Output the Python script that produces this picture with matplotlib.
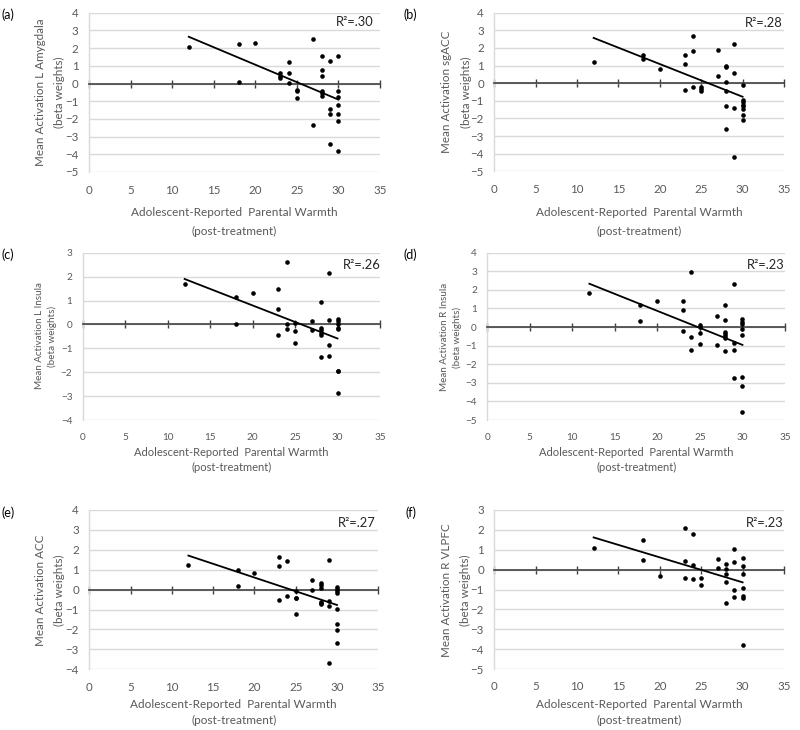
import matplotlib
matplotlib.use("Agg")
import matplotlib.pyplot as plt

plt.rcParams['font.family'] = ['Lato', 'DejaVu Sans']

W, H = 800, 730

# ---------------- data ----------------
a_x = [12, 18, 18, 20, 23, 23, 23, 24, 24, 24, 25, 25, 25, 27, 27, 28, 28, 28, 28, 28, 28,
       29, 29, 29, 29, 30, 30, 30, 30, 30, 30, 30]
a_y = [2.05, 2.25, 0.11, 2.28, 0.58, 0.45, 0.32, 1.19, 0.58, 0.02, -0.36, -0.43, -0.83, 2.53, -2.32,
       1.55, 0.79, 0.43, -0.40, -0.55, -0.72, 1.26, -1.42, -1.75, -3.42,
       1.55, -0.45, -0.77, -1.19, -1.72, -2.13, -3.81]

b_x = [12, 18, 18, 20, 23, 23, 23, 24, 24, 24, 25, 25, 25, 27, 27, 28, 28, 28, 28, 28, 28,
       29, 29, 29, 29, 30, 30, 30, 30, 30, 30, 30, 30]
b_y = [1.19, 1.6, 1.4, 0.81, 1.62, 1.09, -0.38, 2.68, 1.81, -0.19, -0.19, -0.32, -0.47, 1.89, 0.43,
       1.0, 0.94, 0.04, -0.47, -1.32, -2.6, 2.23, 0.55, -1.43, -4.19,
       -0.09, -0.94, -1.08, -1.21, -1.32, -1.47, -1.79, -2.08]

c_x = [12, 18, 18, 20, 23, 23, 23, 24, 24, 24, 25, 25, 25, 27, 27, 28, 28, 28, 28, 28, 28,
       29, 29, 29, 29, 30, 30, 30, 30, 30, 30, 30, 30]
c_y = [1.69, 1.15, 0.0, 1.30, 1.49, 0.64, -0.45, 2.6, 0.03, -0.2, 0.06, -0.28, -0.78, 0.15, -0.22,
       0.94, -0.17, -0.25, -0.34, -0.46, -1.38, 2.15, 0.18, -0.87, -1.33,
       0.22, 0.13, 0.01, -0.14, -0.2, -1.94, -1.97, -2.89]

d_x = [12, 18, 18, 20, 23, 23, 23, 24, 24, 24, 25, 25, 25, 25, 27, 27, 28, 28, 28, 28, 28, 28, 28,
       29, 29, 29, 29, 30, 30, 30, 30, 30, 30, 30, 30]
d_y = [1.83, 1.19, 0.32, 1.42, 1.42, 0.93, -0.23, 2.97, -0.55, -1.23, 0.09, 0.02, -0.3, -0.91,
       0.62, -0.98, 1.21, 0.36, -0.25, -0.36, -0.46, -0.6, -1.28, 2.3, -0.84, -1.21, -2.76,
       0.41, 0.28, 0.16, -0.09, -0.43, -2.69, -3.18, -4.57]

e_x = [12, 18, 18, 20, 23, 23, 23, 24, 24, 25, 25, 25, 25, 27, 27, 28, 28, 28, 28, 28, 28,
       29, 29, 29, 29, 30, 30, 30, 30, 30, 30, 30, 30]
e_y = [1.24, 0.99, 0.18, 0.82, 1.62, 1.21, -0.52, 1.44, -0.34, -0.05, -0.4, -0.44, -1.24, 0.47, -0.02,
       0.34, 0.23, 0.1, -0.6, -0.67, -0.74, 1.47, -0.57, -0.82, -3.68,
       0.13, 0.03, -0.07, -0.15, -0.97, -1.71, -2.01, -2.66]

f_x = [12, 18, 18, 20, 23, 23, 23, 24, 24, 24, 25, 25, 27, 27, 28, 28, 28, 28, 28,
       29, 29, 29, 29, 30, 30, 30, 30, 30, 30, 30]
f_y = [1.11, 1.48, 0.47, -0.32, 2.09, 0.42, -0.44, 1.8, 0.25, -0.47, -0.44, -0.78, 0.52, 0.1,
       0.27, 0.05, -0.2, -0.62, -1.67, 1.03, 0.4, -1.03, -1.38,
       0.59, 0.19, -0.2, -0.91, -1.33, -1.43, -3.78]

trend_x = [12, 30]
trend_a = [2.64, -0.91]
trend_b = [2.57, -0.77]
trend_c = [1.90, -0.59]
trend_d = [2.33, -0.96]
trend_e = [1.71, -0.77]
trend_f = [1.62, -0.64]

panel_labels = ['(a)', '(b)', '(c)', '(d)', '(e)', '(f)']
r2_labels = ['R\u00b2=.30', 'R\u00b2=.28', 'R\u00b2=.26', 'R\u00b2=.23', 'R\u00b2=.27', 'R\u00b2=.23']
y_titles = ['Mean Activation L Amygdala', 'Mean Activation sgACC', 'Mean Activation L Insula',
            'Mean Activation R Insula', 'Mean Activation ACC', 'Mean Activation R VLPFC']
y_sub = '(beta weights)'
x_title = 'Adolescent-Reported  Parental Warmth'
x_sub = '(post-treatment)'
y_limits = [(-5, 4), (-5, 4), (-4, 3), (-5, 4), (-4, 4), (-5, 3)]
x_ticks = [0, 5, 10, 15, 20, 25, 30, 35]

xs = [a_x, b_x, c_x, d_x, e_x, f_x]
ys = [a_y, b_y, c_y, d_y, e_y, f_y]
trends = [trend_a, trend_b, trend_c, trend_d, trend_e, trend_f]

# ---------------- layout (pixels) ----------------
boxes = [  # left, right, top, bottom
    (89, 380, 12.7, 172),
    (494.3, 784, 12.7, 171.3),
    (82.7, 380, 252.7, 420),
    (487.3, 785, 252.7, 420),
    (89.3, 378.3, 510, 669.3),
    (494.3, 784, 510, 669),
]
panel_pos = [(2, 15), (403, 15), (2, 255), (404, 255), (2, 513), (406, 513)]
r2_pos = [(374, 22), (783, 23), (381, 265), (785, 265), (376, 523), (784, 523)]
ytitle_pos = [((41, 59), 92), ((447, 466), 92), ((39, 52), 336), ((444, 457), 337),
              ((41, 59), 590), ((446, 465), 590)]
xtitle_pos = [(213, 231), (213, 231), (452, 467), (452, 467), (704, 720), (704, 720)]
ylab_size = [8.4, 8.4, 7.1, 7.1, 8.4, 8.4]
tick_size = [8.3, 8.3, 7.2, 7.2, 8.3, 8.3]
xlab_size = [8.5, 8.5, 8.0, 8.0, 8.5, 8.5]

GRID = '#d9d9d9'
AXC = '#404040'
TXT = '#595959'

fig = plt.figure(figsize=(W / 100, H / 100), dpi=100)

for i in range(6):
    l, r, t, b = boxes[i]
    ax = fig.add_axes([l / W, 1 - b / H, (r - l) / W, (b - t) / H])
    ymin, ymax = y_limits[i]
    ax.set_xlim(0, 35)
    ax.set_ylim(ymin, ymax)
    ax.set_yticks(list(range(ymin, ymax + 1)))
    ax.set_xticks(x_ticks)
    ax.yaxis.grid(True, color=GRID, lw=1.0)
    ax.set_axisbelow(True)
    for s in ['top', 'right']:
        ax.spines[s].set_visible(False)
    ax.spines['left'].set_color(GRID)
    ax.spines['left'].set_linewidth(1.0)
    ax.spines['bottom'].set_position(('data', 0))
    ax.spines['bottom'].set_color(AXC)
    ax.spines['bottom'].set_linewidth(1.2)
    ax.spines['bottom'].set_zorder(2.5)
    ax.tick_params(axis='x', direction='inout', length=6, width=1.0, color=AXC,
                   labelbottom=False)
    ax.tick_params(axis='y', length=0, pad=7.5, labelsize=tick_size[i], labelcolor=TXT)

    sec = ax.secondary_xaxis('bottom')
    sec.set_xticks(x_ticks)
    sec.spines['bottom'].set_visible(False)
    sec.tick_params(length=0, pad=9, labelsize=tick_size[i], labelcolor=TXT)

    ax.plot(xs[i], ys[i], 'o', color='black', ms=3.3, mec='none', zorder=3, clip_on=False)
    ax.plot(trend_x, trends[i], color='black', lw=1.3, zorder=3)

    # texts
    px, py = panel_pos[i]
    fig.text(px / W, 1 - py / H, panel_labels[i], fontsize=9, color='black',
             ha='left', va='center')
    rx, ry = r2_pos[i]
    fig.text(rx / W, 1 - ry / H, r2_labels[i], fontsize=9.3, color='#262626',
             ha='right', va='center')
    (yx1, yx2), yc = ytitle_pos[i]
    fig.text(yx1 / W, 1 - yc / H, y_titles[i], rotation=90, fontsize=ylab_size[i],
             color=TXT, ha='center', va='center')
    fig.text(yx2 / W, 1 - yc / H, y_sub, rotation=90, fontsize=ylab_size[i],
             color=TXT, ha='center', va='center')
    xc = (l + r) / 2
    y1, y2 = xtitle_pos[i]
    fig.text(xc / W, 1 - y1 / H, x_title, fontsize=xlab_size[i], color=TXT,
             ha='center', va='center')
    fig.text(xc / W, 1 - y2 / H, x_sub, fontsize=xlab_size[i], color=TXT,
             ha='center', va='center')

fig.savefig('out.png', dpi=100)
